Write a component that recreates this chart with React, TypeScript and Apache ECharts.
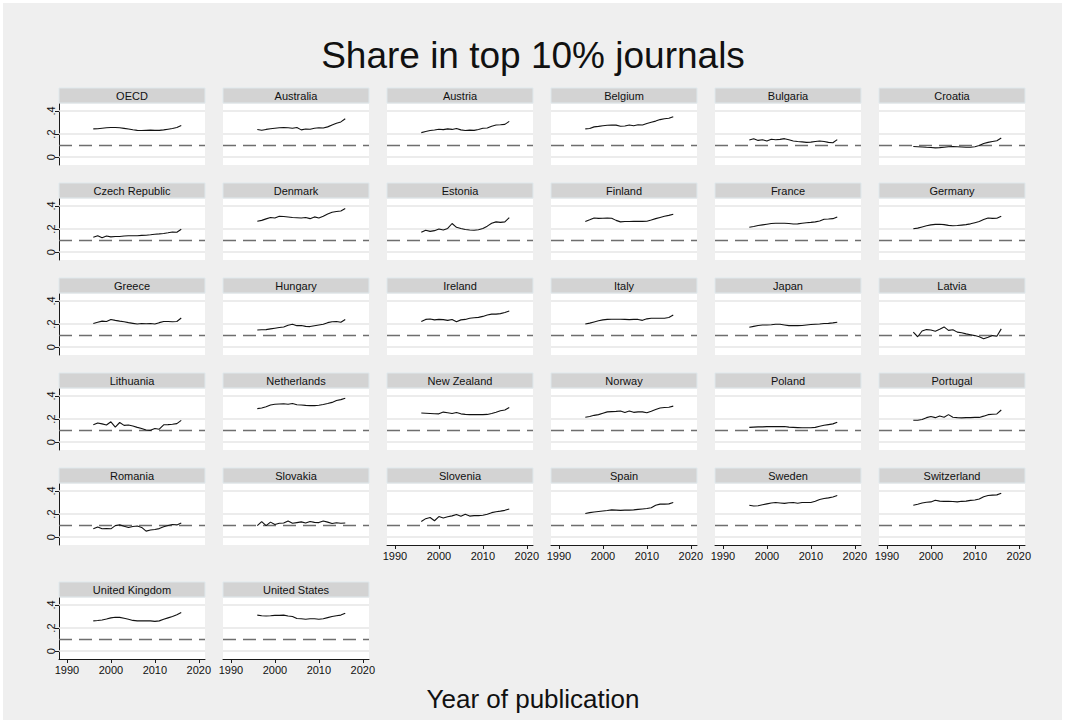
import React, { useEffect, useRef } from 'react';
import * as echarts from 'echarts';

const YEARS = [1996, 1997, 1998, 1999, 2000, 2001, 2002, 2003, 2004, 2005, 2006, 2007, 2008, 2009, 2010, 2011, 2012, 2013, 2014, 2015, 2016];

const COUNTRIES = [
  'OECD', 'Australia', 'Austria', 'Belgium', 'Bulgaria', 'Croatia',
  'Czech Republic', 'Denmark', 'Estonia', 'Finland', 'France', 'Germany',
  'Greece', 'Hungary', 'Ireland', 'Italy', 'Japan', 'Latvia',
  'Lithuania', 'Netherlands', 'New Zealand', 'Norway', 'Poland', 'Portugal',
  'Romania', 'Slovakia', 'Slovenia', 'Spain', 'Sweden', 'Switzerland',
  'United Kingdom', 'United States',
];

const OECD = [0.245, 0.246, 0.250, 0.254, 0.256, 0.256, 0.254, 0.249, 0.243, 0.237, 0.232, 0.230, 0.232, 0.234, 0.232, 0.232, 0.236, 0.242, 0.248, 0.256, 0.274];
const AUSTRALIA = [0.240, 0.233, 0.240, 0.246, 0.250, 0.254, 0.256, 0.254, 0.250, 0.257, 0.236, 0.244, 0.242, 0.250, 0.254, 0.252, 0.262, 0.278, 0.294, 0.305, 0.332];
const AUSTRIA = [0.212, 0.222, 0.230, 0.235, 0.242, 0.238, 0.245, 0.240, 0.248, 0.236, 0.230, 0.234, 0.232, 0.240, 0.250, 0.252, 0.268, 0.278, 0.280, 0.284, 0.310];
const BELGIUM = [0.245, 0.248, 0.262, 0.266, 0.272, 0.276, 0.278, 0.277, 0.268, 0.270, 0.278, 0.272, 0.280, 0.278, 0.292, 0.302, 0.312, 0.325, 0.332, 0.336, 0.350];
const BULGARIA = [0.148, 0.160, 0.145, 0.150, 0.140, 0.155, 0.150, 0.154, 0.160, 0.150, 0.140, 0.135, 0.132, 0.128, 0.130, 0.136, 0.140, 0.135, 0.128, 0.125, 0.152];
const CROATIA = [0.092, 0.090, 0.088, 0.085, 0.083, 0.080, 0.082, 0.086, 0.090, 0.092, 0.090, 0.088, 0.086, 0.085, 0.090, 0.100, 0.118, 0.128, 0.135, 0.142, 0.165];
const CZECH = [0.128, 0.142, 0.125, 0.140, 0.132, 0.136, 0.135, 0.140, 0.142, 0.142, 0.142, 0.145, 0.146, 0.150, 0.155, 0.158, 0.162, 0.168, 0.175, 0.172, 0.198];
const DENMARK = [0.267, 0.275, 0.288, 0.300, 0.296, 0.310, 0.308, 0.304, 0.300, 0.298, 0.296, 0.300, 0.290, 0.305, 0.296, 0.310, 0.330, 0.345, 0.352, 0.356, 0.378];
const ESTONIA = [0.172, 0.190, 0.180, 0.186, 0.200, 0.192, 0.205, 0.248, 0.215, 0.205, 0.196, 0.192, 0.190, 0.194, 0.205, 0.225, 0.250, 0.262, 0.258, 0.262, 0.298];
const FINLAND = [0.265, 0.280, 0.296, 0.292, 0.294, 0.296, 0.294, 0.275, 0.262, 0.265, 0.265, 0.266, 0.266, 0.266, 0.268, 0.278, 0.290, 0.300, 0.310, 0.318, 0.328];
const FRANCE = [0.215, 0.222, 0.230, 0.236, 0.242, 0.248, 0.250, 0.250, 0.250, 0.248, 0.244, 0.245, 0.250, 0.255, 0.258, 0.262, 0.270, 0.285, 0.287, 0.290, 0.305];
const GERMANY = [0.202, 0.208, 0.218, 0.228, 0.236, 0.240, 0.242, 0.238, 0.232, 0.228, 0.230, 0.234, 0.238, 0.245, 0.255, 0.265, 0.282, 0.296, 0.292, 0.294, 0.310];
const GREECE = [0.205, 0.215, 0.225, 0.222, 0.240, 0.232, 0.225, 0.220, 0.212, 0.206, 0.200, 0.205, 0.203, 0.205, 0.200, 0.212, 0.222, 0.222, 0.220, 0.222, 0.252];
const HUNGARY = [0.148, 0.150, 0.152, 0.158, 0.164, 0.170, 0.175, 0.190, 0.198, 0.186, 0.188, 0.180, 0.178, 0.185, 0.192, 0.198, 0.212, 0.220, 0.222, 0.215, 0.240];
const IRELAND = [0.222, 0.240, 0.244, 0.236, 0.240, 0.238, 0.232, 0.240, 0.220, 0.236, 0.240, 0.250, 0.254, 0.258, 0.266, 0.278, 0.286, 0.286, 0.290, 0.300, 0.312];
const ITALY = [0.200, 0.208, 0.218, 0.228, 0.236, 0.240, 0.242, 0.242, 0.242, 0.240, 0.238, 0.240, 0.240, 0.232, 0.245, 0.250, 0.250, 0.250, 0.250, 0.256, 0.278];
const JAPAN = [0.172, 0.180, 0.188, 0.192, 0.192, 0.194, 0.198, 0.198, 0.192, 0.186, 0.186, 0.186, 0.188, 0.192, 0.196, 0.198, 0.200, 0.204, 0.206, 0.210, 0.216];
const LATVIA = [0.130, 0.090, 0.140, 0.152, 0.148, 0.138, 0.155, 0.175, 0.145, 0.150, 0.130, 0.125, 0.115, 0.108, 0.100, 0.090, 0.072, 0.085, 0.100, 0.095, 0.158];
const LITHUANIA = [0.150, 0.165, 0.158, 0.148, 0.176, 0.130, 0.170, 0.145, 0.148, 0.140, 0.128, 0.118, 0.105, 0.102, 0.118, 0.112, 0.150, 0.152, 0.155, 0.160, 0.188];
const NETHERLANDS = [0.290, 0.296, 0.306, 0.322, 0.328, 0.330, 0.332, 0.328, 0.334, 0.324, 0.322, 0.318, 0.316, 0.316, 0.320, 0.326, 0.334, 0.344, 0.360, 0.368, 0.380];
const NEW_ZEALAND = [0.252, 0.250, 0.248, 0.246, 0.245, 0.260, 0.255, 0.248, 0.256, 0.245, 0.240, 0.238, 0.238, 0.238, 0.238, 0.240, 0.248, 0.258, 0.272, 0.278, 0.300];
const NORWAY = [0.215, 0.222, 0.232, 0.238, 0.250, 0.262, 0.264, 0.266, 0.270, 0.256, 0.270, 0.258, 0.262, 0.262, 0.255, 0.268, 0.282, 0.295, 0.300, 0.302, 0.312];
const POLAND = [0.128, 0.130, 0.132, 0.132, 0.134, 0.134, 0.136, 0.134, 0.136, 0.130, 0.128, 0.126, 0.124, 0.124, 0.124, 0.128, 0.138, 0.146, 0.152, 0.158, 0.172];
const PORTUGAL = [0.190, 0.190, 0.196, 0.212, 0.222, 0.212, 0.226, 0.215, 0.238, 0.215, 0.212, 0.210, 0.212, 0.212, 0.214, 0.214, 0.225, 0.238, 0.242, 0.244, 0.278];
const ROMANIA = [0.072, 0.088, 0.072, 0.074, 0.072, 0.100, 0.106, 0.094, 0.084, 0.092, 0.096, 0.084, 0.052, 0.062, 0.066, 0.074, 0.090, 0.100, 0.110, 0.106, 0.122];
const SLOVAKIA = [0.100, 0.135, 0.100, 0.130, 0.110, 0.120, 0.122, 0.140, 0.120, 0.126, 0.132, 0.122, 0.136, 0.128, 0.126, 0.140, 0.130, 0.118, 0.124, 0.120, 0.122];
const SLOVENIA = [0.135, 0.160, 0.170, 0.142, 0.178, 0.166, 0.176, 0.184, 0.196, 0.180, 0.198, 0.182, 0.186, 0.186, 0.190, 0.198, 0.212, 0.220, 0.225, 0.232, 0.244];
const SPAIN = [0.205, 0.212, 0.218, 0.222, 0.226, 0.230, 0.236, 0.234, 0.232, 0.234, 0.234, 0.236, 0.240, 0.244, 0.248, 0.254, 0.276, 0.286, 0.286, 0.288, 0.300];
const SWEDEN = [0.276, 0.270, 0.272, 0.280, 0.288, 0.296, 0.300, 0.296, 0.292, 0.298, 0.300, 0.294, 0.300, 0.300, 0.300, 0.310, 0.326, 0.334, 0.340, 0.348, 0.360];
const SWITZERLAND = [0.276, 0.285, 0.295, 0.302, 0.305, 0.320, 0.312, 0.310, 0.310, 0.308, 0.305, 0.310, 0.312, 0.318, 0.322, 0.330, 0.350, 0.360, 0.364, 0.366, 0.380];
const UNITED_KINGDOM = [0.262, 0.265, 0.270, 0.278, 0.288, 0.293, 0.292, 0.284, 0.276, 0.266, 0.262, 0.262, 0.262, 0.262, 0.258, 0.262, 0.276, 0.288, 0.300, 0.315, 0.335];
const UNITED_STATES = [0.312, 0.306, 0.304, 0.306, 0.310, 0.310, 0.312, 0.304, 0.300, 0.282, 0.280, 0.276, 0.280, 0.280, 0.276, 0.280, 0.290, 0.300, 0.306, 0.312, 0.328];

const SERIES_VALUES = [
  OECD, AUSTRALIA, AUSTRIA, BELGIUM, BULGARIA, CROATIA,
  CZECH, DENMARK, ESTONIA, FINLAND, FRANCE, GERMANY,
  GREECE, HUNGARY, IRELAND, ITALY, JAPAN, LATVIA,
  LITHUANIA, NETHERLANDS, NEW_ZEALAND, NORWAY, POLAND, PORTUGAL,
  ROMANIA, SLOVAKIA, SLOVENIA, SPAIN, SWEDEN, SWITZERLAND,
  UNITED_KINGDOM, UNITED_STATES,
];

const X_TICKS = [1990, 2000, 2010, 2020];
const X_TICK_LABELS = ['1990', '2000', '2010', '2020'];
const Y_TICKS = [0, 0.2, 0.4];
const Y_TICK_LABELS = ['0', '.2', '.4'];
const REFERENCE_LINE = 0.1;

const TITLE = 'Share in top 10% journals';
const X_TITLE = 'Year of publication';

const FONT = '"Liberation Sans", Arial, Helvetica, sans-serif';

function pickLabel(ticks: number[], labels: string[], v: number) {
  const k = ticks.findIndex((t) => Math.abs(t - v) < 1e-6);
  return k >= 0 ? labels[k] : '';
}

export default function App() {
  const ref = useRef<HTMLDivElement>(null);

  useEffect(() => {
    document.body.style.margin = '0';
    const chart = echarts.init(ref.current!, null, { renderer: 'svg' });

    const grids: any[] = [];
    const xAxes: any[] = [];
    const yAxes: any[] = [];
    const series: any[] = [];
    const graphics: any[] = [
      { type: 'rect', shape: { x: 3, y: 3, width: 1059, height: 717 }, style: { fill: '#efefef' }, z: -10, silent: true },
    ];

    const PW = 146;
    const PH = 61;
    const HEADER_H = 15;

    COUNTRIES.forEach((name, i) => {
      const r = Math.floor(i / 6);
      const c = i % 6;
      const headerTop = r < 5 ? 88 + 95 * r : 582;
      const left = 59 + 164 * c;
      const top = headerTop + HEADER_H + 1;
      const bottomRow = (c < 2 && r === 5) || (c >= 2 && r === 4);
      const leftCol = c === 0;

      grids.push({
        left, top, width: PW, height: PH,
        show: true, backgroundColor: '#ffffff', borderWidth: 0,
      });

      xAxes.push({
        gridIndex: i,
        type: 'value',
        min: 1988.2,
        max: 2021.4,
        axisLine: { show: bottomRow, onZero: false, lineStyle: { color: '#1a1a1a', width: 1 } },
        axisTick: { show: bottomRow, customValues: X_TICKS, length: 4, lineStyle: { color: '#1a1a1a' } },
        axisLabel: {
          show: bottomRow, customValues: X_TICKS, fontSize: 11, color: '#111',
          fontFamily: FONT, margin: 5,
          formatter: (v: number) => pickLabel(X_TICKS, X_TICK_LABELS, v),
        },
        splitLine: { show: false },
      });

      yAxes.push({
        gridIndex: i,
        type: 'value',
        min: -0.068,
        max: 0.46,
        axisLine: { show: leftCol, onZero: false, lineStyle: { color: '#1a1a1a', width: 1 } },
        axisTick: { show: leftCol, customValues: Y_TICKS, length: 4, lineStyle: { color: '#1a1a1a' } },
        axisLabel: {
          show: leftCol, customValues: Y_TICKS, fontSize: 11, color: '#111', fontFamily: FONT,
          rotate: 90, margin: 3,
          formatter: (v: number) => pickLabel(Y_TICKS, Y_TICK_LABELS, v),
        },
        splitLine: { show: false },
      });

      const vals = SERIES_VALUES[i];
      series.push({
        type: 'line',
        name,
        xAxisIndex: i,
        yAxisIndex: i,
        data: YEARS.map((y, k) => [y, vals[k]]),
        symbol: 'none',
        lineStyle: { color: '#111', width: 1.1 },
        z: 5,
        markLine: {
          silent: true,
          symbol: 'none',
          label: { show: false },
          animation: false,
          z: 1,
          data: [
            ...Y_TICKS.map((t) => ({ yAxis: t, lineStyle: { color: '#e6e6e6', width: 1.5, type: 'solid' } })),
            { yAxis: REFERENCE_LINE, lineStyle: { color: '#6e6e6e', width: 1.4, type: [13, 7] } },
          ],
        },
      });

      graphics.push({
        type: 'rect',
        shape: { x: left, y: headerTop, width: PW, height: HEADER_H },
        style: { fill: '#d3d3d3', stroke: '#dfe8ec', lineWidth: 1 },
        silent: true,
      });
      graphics.push({
        type: 'text',
        x: left + PW / 2,
        y: headerTop + HEADER_H / 2 + 0.5,
        style: {
          text: name, fill: '#111', fontSize: 11, fontWeight: 'normal', fontFamily: FONT,
          align: 'center', verticalAlign: 'middle',
        },
        silent: true,
      });
    });

    graphics.push({
      type: 'text',
      x: 533,
      y: 55,
      style: {
        text: TITLE, fill: '#111', fontSize: 37, fontWeight: 'normal', fontFamily: FONT,
        align: 'center', verticalAlign: 'middle',
      },
      silent: true,
    });
    graphics.push({
      type: 'text',
      x: 533,
      y: 699,
      style: {
        text: X_TITLE, fill: '#111', fontSize: 26, fontWeight: 'normal', fontFamily: FONT,
        align: 'center', verticalAlign: 'middle',
      },
      silent: true,
    });

    chart.setOption({
      animation: false,
      backgroundColor: '#ffffff',
      grid: grids,
      xAxis: xAxes,
      yAxis: yAxes,
      series,
      graphic: graphics,
    });

    return () => chart.dispose();
  }, []);

  return (
    <div
      ref={ref}
      style={{ position: 'fixed', left: 0, top: 0, width: 1065, height: 723 }}
    />
  );
}
